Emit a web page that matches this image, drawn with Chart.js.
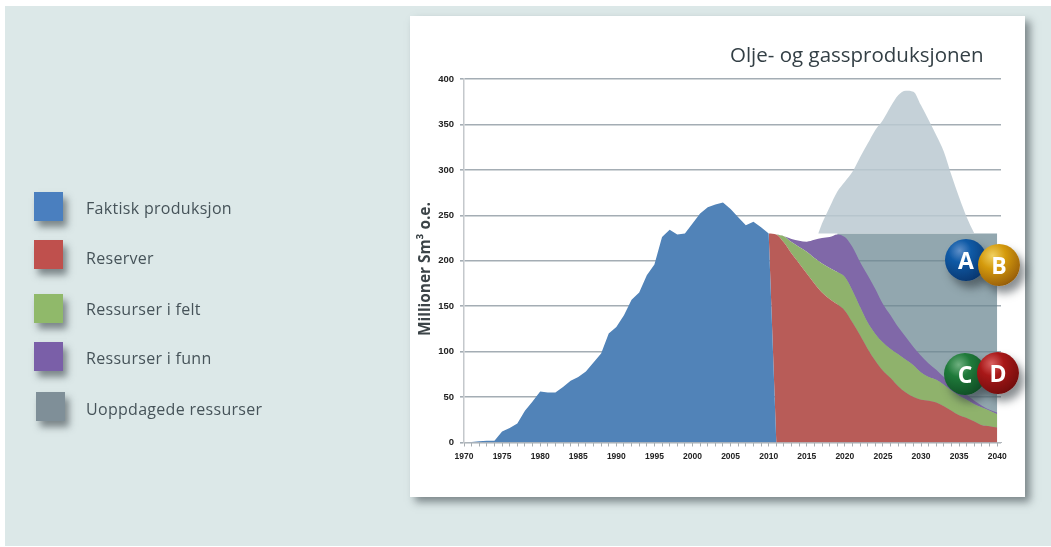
<!DOCTYPE html>
<html lang="no">
<head>
<meta charset="utf-8">
<title>Olje- og gassproduksjonen</title>
<script src="https://cdn.jsdelivr.net/npm/chart.js@4"></script>
<style>
html,body{margin:0;padding:0;background:#fff;width:1051px;height:547px;overflow:hidden;font-family:"Open Sans",sans-serif}
#panel{position:absolute;left:5px;top:6px;width:1046px;height:540px;background:#dce8e8}
#card{position:absolute;left:410px;top:16px;width:615px;height:481px;background:#fff;box-shadow:5px 5px 8px rgba(60,70,75,.6)}
#card canvas{position:absolute;left:0;top:0;filter:blur(.6px)}
#title{position:absolute;left:730px;top:40px;font-size:20.5px;color:#333f45;white-space:nowrap;filter:blur(.5px)}
#ytitle{position:absolute;left:414px;top:200px;height:138px;writing-mode:vertical-rl;transform:rotate(180deg);font:bold 15.4px "Open Sans",sans-serif;color:#3c4448;text-align:center;white-space:nowrap;filter:blur(.6px)}
.sw{position:absolute;width:29px;height:29px;box-shadow:4px 6px 7px rgba(60,70,75,.6);filter:blur(.4px)}
.lb{position:absolute;left:86px;font-size:16px;letter-spacing:.3px;line-height:20px;color:#465359;white-space:nowrap;filter:blur(.5px)}
.ball{position:absolute;width:42px;height:42px;border-radius:50%;color:#fff;font:bold 23px/43px "Open Sans",sans-serif;text-align:center;box-shadow:5px 7px 8px rgba(40,50,55,.55);filter:blur(.5px)}
</style>
</head>
<body>
<div id="panel"></div>
<div id="legend"></div>
<div id="card"><canvas id="c" width="615" height="481"></canvas></div>
<div id="title">Olje- og gassproduksjonen</div>
<div id="ytitle">Millioner Sm³ o.e.</div>
<div class="ball" style="left:945px;top:239px;background:radial-gradient(circle at 35% 28%,#5f8fc8 0,#0f5aa6 28%,#0a3c78 72%,#05214a 100%)">A</div>
<div class="ball" style="left:978px;top:244px;background:radial-gradient(circle at 35% 28%,#f0d060 0,#d49a0c 32%,#a0660a 72%,#5c3304 100%)">B</div>
<div class="ball" style="left:944px;top:353px;background:radial-gradient(circle at 35% 28%,#6fb080 0,#1f7a3a 30%,#125528 72%,#082e14 100%)">C</div>
<div class="ball" style="left:977px;top:352px;background:radial-gradient(circle at 35% 28%,#d86060 0,#a81818 30%,#7a0e0e 72%,#400606 100%)">D</div>
<script>
const years = [1970,1971,1972,1973,1974,1975,1976,1977,1978,1979,1980,1981,1982,1983,1984,1985,1986,1987,1988,1989,1990,1991,1992,1993,1994,1995,1996,1997,1998,1999,2000,2001,2002,2003,2004,2005,2006,2007,2008,2009,2010,2011,2012,2013,2014,2015,2016,2017,2018,2019,2020,2021,2022,2023,2024,2025,2026,2027,2028,2029,2030,2031,2032,2033,2034,2035,2036,2037,2038,2039,2040];
const faktisk = [0,0.5,1.5,2,2,12,16,21,35,45,56,55,55,61,68,72,78,88,98,120,127,140,157,165,184,196,226,234,229,230,241,252,259,262,264,257,248,239,243,237,230,0,0,0,0,0,0,0,0,0,0,0,0,0,0,0,0,0,0,0,0,0,0,0,0,0,0,0,0,0,0];
const reserver = [null,null,null,null,null,null,null,null,null,null,null,null,null,null,null,null,null,null,null,null,null,null,null,null,null,null,null,null,null,null,null,null,null,null,null,null,null,null,null,null,0,229,220,208,197,186,175,165,158,152,145,132,118,103,90,79,71,62,55,50,47,46,44,40,35,30,27,23,19,18,16.5];
const felt = [null,null,null,null,null,null,null,null,null,null,null,null,null,null,null,null,null,null,null,null,null,null,null,null,null,null,null,null,null,null,null,null,null,null,null,null,null,null,null,null,null,0,7,12.5,18,24,28,32,34,35.5,37,35,31,29,29.5,31,32,35,36,35,30,26,25,23.5,22,21.5,20,19,19.5,17,14.5];
const funn = [null,null,null,null,null,null,null,null,null,null,null,null,null,null,null,null,null,null,null,null,null,null,null,null,null,null,null,null,null,null,null,null,null,null,null,null,null,null,null,null,null,0,0,3.5,7,11,20,28,34,41.5,44,48,49.5,52,49.5,42.5,37,30,25,20,18.5,15,11,8.5,8,7.5,5.5,4,2,1,2];
const uoppdagetAar = [2016.5,2017,2018,2019,2020,2021,2022,2023,2024,2025,2026,2027,2028,2029,2030,2031,2032,2033,2034,2035,2036,2037];
const uoppdaget = [230,241,259,276,287,298,314,329,344,355,369.5,382,387,386,371,355,338,320,294,270,248,230];
const kapasitetAar = [2019,2040];
const kapasitet = [230,230];
const yTicks = [0,50,100,150,200,250,300,350,400];

const legendNames = ['Faktisk produksjon','Reserver','Ressurser i felt','Ressurser i funn','Uoppdagede ressurser'];
const legendColors = ['#4a7fbf','#bf504d','#90b96a','#7a5fa8','#7f8f98'];
const legendTops = [192,240,294,342,392];
const legendTextTops = [198,248,299,348,399];
const legendEl = document.getElementById('legend');
legendNames.forEach((n,i)=>{
  const s=document.createElement('div');s.className='sw';
  s.style.cssText=`left:${i===4?36:34}px;top:${legendTops[i]}px;background:${legendColors[i]}`;
  const t=document.createElement('div');t.className='lb';t.textContent=n;
  t.style.top=legendTextTops[i]+'px';
  legendEl.append(s,t);
});

const pts=(xs,ys)=>xs.map((x,i)=>({x,y:ys[i]}));
const area=(label,xs,ys,color,fill,extra)=>Object.assign({label,data:pts(xs,ys),backgroundColor:color,borderWidth:0,pointRadius:0,fill},extra||{});
const smooth={cubicInterpolationMode:'monotone'};

new Chart(document.getElementById('c'),{
  type:'line',
  data:{datasets:[
    area('Faktisk produksjon',years,faktisk,'#5183b8','origin',{stack:'a',tension:0}),
    area('Reserver',years,reserver,'#b85c58','-1',{stack:'a',...smooth}),
    area('Ressurser i felt',years,felt,'#8fb26c','-1',{stack:'a',...smooth}),
    area('Ressurser i funn',years,funn,'#8068a8','-1',{stack:'a',...smooth}),
    area('Uoppdagede ressurser',uoppdagetAar,uoppdaget,'rgba(187,201,209,.85)',{value:230},{stack:'u',...smooth}),
    area('Uoppdagede (nivå)',kapasitetAar,kapasitet,'rgba(104,133,144,.72)','origin',{stack:'k',tension:0})
  ]},
  options:{
    responsive:false,animation:false,
    layout:{autoPadding:false,padding:{left:0,right:24,top:63,bottom:0}},
    plugins:{legend:{display:false},tooltip:{enabled:false},title:{display:false}},
    scales:{
      x:{type:'linear',min:1970,max:2040.5,
        afterFit(s){s.height=54.5},
        grid:{drawOnChartArea:false,drawTicks:true,tickLength:4,color:'#a8aeb2'},
        border:{color:'#b4b8bc'},
        ticks:{stepSize:1,includeBounds:false,autoSkip:false,maxRotation:0,padding:5,color:'#222',
          font:{family:'Liberation Sans',size:8.5,weight:'bold'},
          callback:v=>v%5===0?String(v):''}},
      y:{stacked:true,min:0,max:400,
        afterFit(s){s.width=54},
        grid:{color:'#a4adb4',lineWidth:1.6,tickLength:4},
        border:{color:'#c4c8cc',width:1.5},
        afterBuildTicks(s){s.ticks=yTicks.map(value=>({value}))},
        ticks:{padding:6,color:'#222',font:{family:'Liberation Sans',size:9.5,weight:'bold'}}}
    }
  }
});
</script>
</body>
</html>
